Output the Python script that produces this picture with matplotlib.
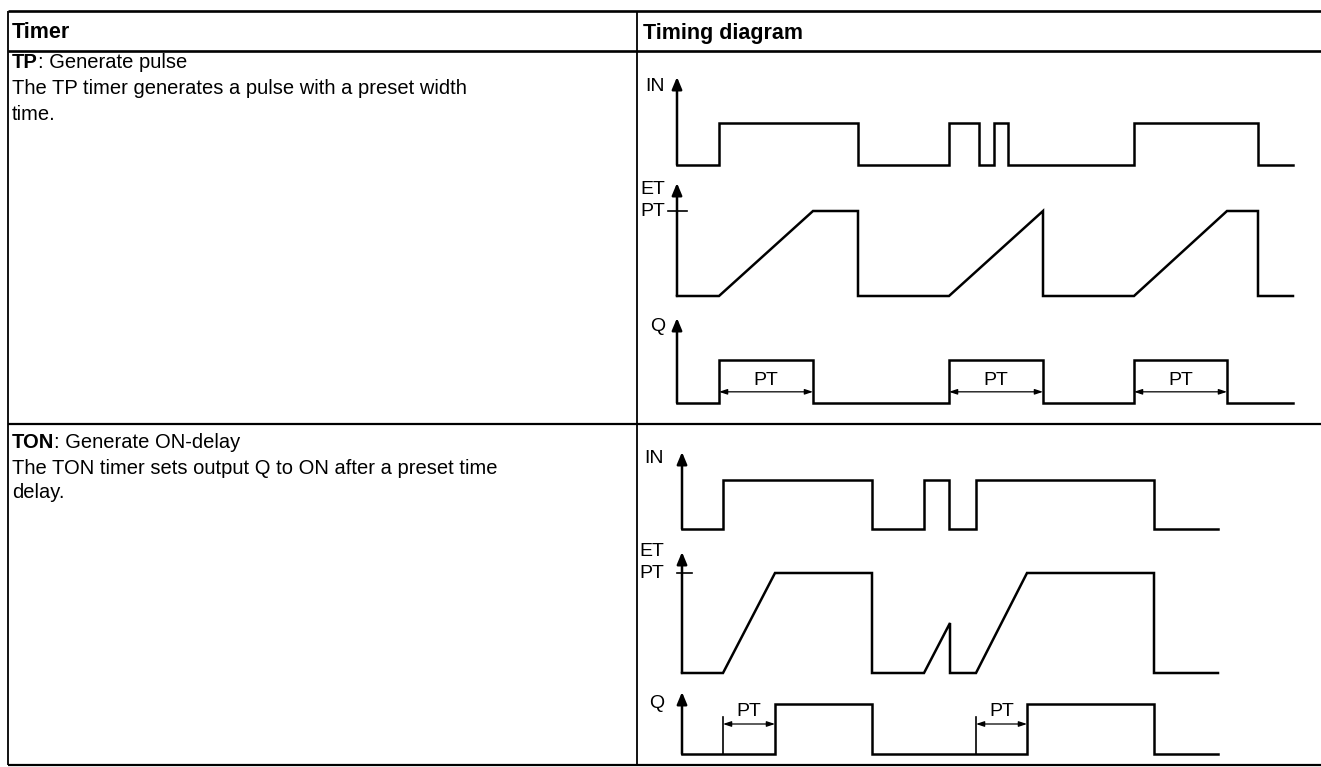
import matplotlib
matplotlib.use("Agg")
import matplotlib.pyplot as plt

W, H = 1321, 767
DPI = 100

plt.rcParams["font.family"] = ["Liberation Sans", "DejaVu Sans"]

FS = 14.5
HEAD_FS = 15.5
LABEL_FS = 14
WAVE_LW = 1.8
XSCALE = 10  # px per time unit

# TP timer: time in arbitrary units, IN/Q as 0/1, ET as fraction of PT
TP_IN_T = [0, 4.2, 18.1, 27.2, 30.2, 31.7, 33.1, 45.7, 58.1, 61.6]
TP_IN_V = [0, 1, 0, 1, 0, 1, 0, 1, 0, 0]
TP_ET_T = [0, 4.2, 13.6, 18.1, 18.1, 27.2, 36.6, 36.6, 45.7, 55.0, 58.1, 58.1, 61.6]
TP_ET_V = [0, 0, 1, 1, 0, 0, 1, 0, 0, 1, 1, 0, 0]
TP_Q_T = [0, 4.2, 13.6, 27.2, 36.6, 45.7, 55.0, 61.6]
TP_Q_V = [0, 1, 0, 1, 0, 1, 0, 0]
TP_PT_SPANS = [(4.2, 13.6), (27.2, 36.6), (45.7, 55.0)]

# TON timer
TON_IN_T = [0, 4.1, 19.0, 24.2, 26.7, 29.4, 47.2, 53.6]
TON_IN_V = [0, 1, 0, 1, 0, 1, 0, 0]
TON_ET_T = [0, 4.1, 9.3, 19.0, 19.0, 24.2, 26.8, 26.8, 29.4, 34.5, 47.2, 47.2, 53.6]
TON_ET_V = [0, 0, 1, 1, 0, 0, 0.5, 0, 0, 1, 1, 0, 0]
TON_Q_T = [0, 9.3, 19.0, 34.5, 47.2, 53.6]
TON_Q_V = [0, 1, 0, 1, 0, 0]
TON_PT_SPANS = [(4.1, 9.3), (29.4, 34.5)]

HEADERS = ["Timer", "Timing diagram"]
TP_TITLE = ("TP", ": Generate pulse")
TP_DESC = ["The TP timer generates a pulse with a preset width", "time."]
TON_TITLE = ("TON", ": Generate ON-delay")
TON_DESC = ["The TON timer sets output Q to ON after a preset time", "delay."]


fig = plt.figure(figsize=(W / DPI, H / DPI), dpi=DPI)
fig.patch.set_facecolor("white")

# table frame in pixel coordinates
tab = fig.add_axes([0, 0, 1, 1])
tab.set_xlim(0, W)
tab.set_ylim(H, 0)
tab.axis("off")

LEFT, DIV, RIGHT = 8, 637, W
TOP, HEAD, ROW, BOTTOM = 11, 51, 424, 765
tab.plot([LEFT, RIGHT], [TOP, TOP], color="black", lw=1.9, solid_capstyle="butt")
tab.plot([LEFT, RIGHT], [HEAD, HEAD], color="black", lw=1.9, solid_capstyle="butt")
tab.plot([LEFT, RIGHT], [ROW, ROW], color="black", lw=1.6, solid_capstyle="butt")
tab.plot([LEFT, RIGHT], [BOTTOM, BOTTOM], color="black", lw=1.6, solid_capstyle="butt")
for x in [LEFT, DIV]:
    tab.plot([x, x], [TOP, BOTTOM], color="black", lw=1.3, solid_capstyle="butt")

tab.text(12, 33, HEADERS[0], fontsize=HEAD_FS, weight="bold", va="center", ha="left")
tab.text(643, 33, HEADERS[1], fontsize=HEAD_FS, weight="bold", va="center", ha="left")

renderer = fig.canvas.get_renderer()


def title_line(x, y, bold, rest):
    t = tab.text(x, y, bold, fontsize=FS, weight="bold", va="center", ha="left")
    width = t.get_window_extent(renderer).width
    tab.text(x + width, y, rest, fontsize=FS, va="center", ha="left")


title_line(12, 63, *TP_TITLE)
for i, line in enumerate(TP_DESC):
    tab.text(12, 89 + i * 25, line, fontsize=FS, va="center", ha="left")

title_line(12, 442, *TON_TITLE)
for i, line in enumerate(TON_DESC):
    tab.text(12, 468 + i * 25, line, fontsize=FS, va="center", ha="left")


def signal_axes(origin, baseline, unit, tip, tmax=64):
    ax = fig.add_axes([origin / W, 1 - baseline / H,
                       tmax * XSCALE / W, (baseline - tip) / H])
    top = (baseline - tip) / unit
    ax.set_xlim(0, tmax)
    ax.set_ylim(0, top)
    ax.axis("off")
    ax.annotate("", xy=(0, top), xytext=(0, 0),
                arrowprops=dict(arrowstyle="-|>,head_length=0.6,head_width=0.25",
                                color="black", lw=WAVE_LW, mutation_scale=12,
                                shrinkA=0, shrinkB=0),
                annotation_clip=False)
    return ax


def label(ax, x, y, s):
    ax.text(x, y, s, fontsize=LABEL_FS, ha="right", va="center", clip_on=False)


def step_wave(ax, t, v):
    ax.plot(t, v, drawstyle="steps-post", color="black", lw=WAVE_LW,
            clip_on=False, solid_joinstyle="miter")


def ramp_wave(ax, t, v):
    ax.plot(t, v, color="black", lw=WAVE_LW, clip_on=False, solid_joinstyle="miter")


def pt_tick(ax, x0, x1):
    ax.plot([x0, x1], [1, 1], color="black", lw=1.2, clip_on=False)


def dim_arrow(ax, t0, t1, y):
    ax.annotate("", xy=(t1, y), xytext=(t0, y),
                arrowprops=dict(arrowstyle="<|-|>,head_length=0.6,head_width=0.2",
                                color="black", lw=0.9, mutation_scale=8,
                                shrinkA=0, shrinkB=0),
                annotation_clip=False)


# ---------- TP diagram ----------
ax = signal_axes(677, 165, 42, 77)
step_wave(ax, TP_IN_T, TP_IN_V)
label(ax, -1.2, 1.88, "IN")

ax = signal_axes(677, 296, 85, 183)
ramp_wave(ax, TP_ET_T, TP_ET_V)
pt_tick(ax, -0.9, 1.0)
label(ax, -1.2, 1.25, "ET")
label(ax, -1.2, 1.0, "PT")

ax = signal_axes(677, 403, 43, 318)
step_wave(ax, TP_Q_T, TP_Q_V)
label(ax, -1.2, 1.79, "Q")
for t0, t1 in TP_PT_SPANS:
    dim_arrow(ax, t0, t1, 0.26)
    ax.text((t0 + t1) / 2, 0.53, "PT", fontsize=LABEL_FS, ha="center", va="center")

# ---------- TON diagram ----------
ax = signal_axes(682, 529, 49, 452)
step_wave(ax, TON_IN_T, TON_IN_V)
label(ax, -1.8, 1.43, "IN")

ax = signal_axes(682, 673, 100, 552)
ramp_wave(ax, TON_ET_T, TON_ET_V)
pt_tick(ax, -0.5, 1.0)
label(ax, -1.8, 1.22, "ET")
label(ax, -1.8, 1.0, "PT")

ax = signal_axes(682, 754, 50, 692)
step_wave(ax, TON_Q_T, TON_Q_V)
label(ax, -1.8, 1.0, "Q")
for t0, t1 in TON_PT_SPANS:
    ax.plot([t0, t0], [0, 0.74], color="black", lw=1.2, clip_on=False)
    dim_arrow(ax, t0, t1, 0.6)
    ax.text((t0 + t1) / 2, 0.86, "PT", fontsize=LABEL_FS, ha="center", va="center")

fig.savefig("out.png", dpi=DPI)
